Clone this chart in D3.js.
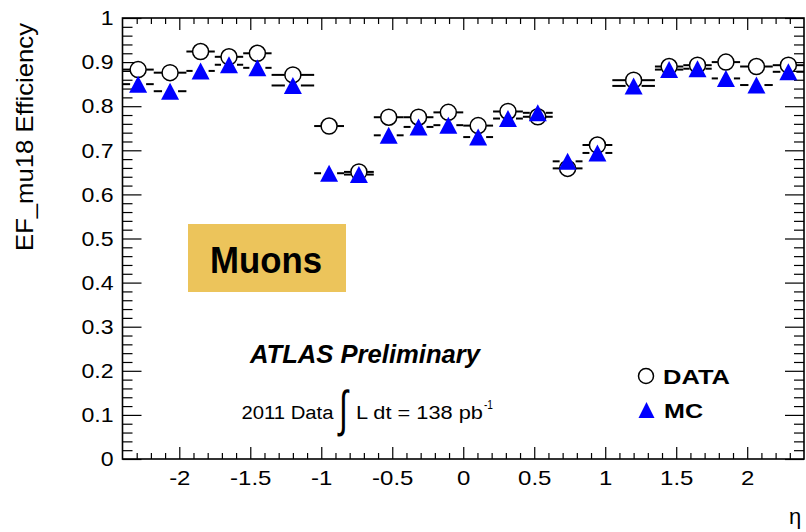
<!DOCTYPE html>
<html>
<head>
<meta charset="utf-8">
<script src="https://cdn.jsdelivr.net/npm/d3@7"></script>
<style>
  html, body { margin: 0; padding: 0; background: #fff; }
  svg { display: block; }
  text { font-family: "Liberation Sans", Arial, Helvetica, sans-serif; fill: #000; }
</style>
</head>
<body>
<div id="chart"></div>
<script>
// ---------------- data ----------------
const etaLow     = [-2.4, -2.18, -1.95, -1.75, -1.55, -1.35, -1.05, -0.84, -0.63, -0.42, -0.21, 0.0, 0.21, 0.42, 0.63, 0.84, 1.05, 1.35, 1.55, 1.75, 1.95, 2.18];
const etaHigh    = [-2.18, -1.95, -1.75, -1.55, -1.35, -1.05, -0.84, -0.63, -0.42, -0.21, 0.0, 0.21, 0.42, 0.63, 0.84, 1.05, 1.35, 1.55, 1.75, 1.95, 2.18, 2.4];
const etaCenter  = [-2.29, -2.065, -1.85, -1.65, -1.45, -1.2, -0.945, -0.735, -0.525, -0.315, -0.105, 0.105, 0.315, 0.525, 0.735, 0.945, 1.2, 1.45, 1.65, 1.85, 2.065, 2.29];
const dataEff    = [0.883, 0.876, 0.924, 0.912, 0.920, 0.871, 0.755, 0.651, 0.775, 0.775, 0.786, 0.756, 0.788, 0.776, 0.659, 0.712, 0.859, 0.890, 0.893, 0.900, 0.890, 0.893];
const mcEff      = [0.850, 0.834, 0.880, 0.894, 0.887, 0.847, 0.648, 0.645, 0.734, 0.753, 0.757, 0.730, 0.772, 0.785, 0.675, 0.694, 0.846, 0.883, 0.885, 0.863, 0.848, 0.878];
const xMajorTicks = [-2, -1.5, -1, -0.5, 0, 0.5, 1, 1.5, 2];
const xTickLabels = ["-2", "-1.5", "-1", "-0.5", "0", "0.5", "1", "1.5", "2"];
const xMinorTicks = [-2.3, -2.2, -2.1, -1.9, -1.8, -1.7, -1.6, -1.4, -1.3, -1.2, -1.1, -0.9, -0.8, -0.7, -0.6, -0.4, -0.3, -0.2, -0.1, 0.1, 0.2, 0.3, 0.4, 0.6, 0.7, 0.8, 0.9, 1.1, 1.2, 1.3, 1.4, 1.6, 1.7, 1.8, 1.9, 2.1, 2.2, 2.3];
const yMajorTicks = [0, 0.1, 0.2, 0.3, 0.4, 0.5, 0.6, 0.7, 0.8, 0.9, 1];
const yTickLabels = ["0", "0.1", "0.2", "0.3", "0.4", "0.5", "0.6", "0.7", "0.8", "0.9", "1"];
const yMinorTicks = [];
for (const t of yMajorTicks.slice(0, -1)) for (const k of [0.02, 0.04, 0.06, 0.08]) yMinorTicks.push(+(t + k).toFixed(2));
const legendLabels = ["DATA", "MC"];

// ---------------- layout ----------------
const W = 806, H = 532;
const L = 122.5, R = 804, T = 18, B = 459;
const svg = d3.select("#chart").append("svg").attr("width", W).attr("height", H);
svg.append("rect").attr("width", W).attr("height", H).attr("fill", "#fff");

const x = d3.scaleLinear().domain([-2.4, 2.4]).range([L, R]);
const y = d3.scaleLinear().domain([0, 1]).range([B, T]);

function styleAxis(g) {
  g.select(".domain").remove();
  g.selectAll(".tick line").attr("stroke", "#000").attr("stroke-width", 1.2);
}

// x axes (bottom with labels, top mirrored)
const xb = svg.append("g").attr("transform", `translate(0,${B})`)
  .call(d3.axisBottom(x).tickValues(xMajorTicks).tickSize(-12).tickSizeOuter(0).tickPadding(12)
    .tickFormat((d, i) => xTickLabels[i]));
styleAxis(xb);
xb.selectAll(".tick text").attr("font-size", 20).attr("font-family", "Liberation Sans, Arial, sans-serif")
  .attr("transform", "scale(1.2,1)");
svg.append("g").attr("transform", `translate(0,${B})`)
  .call(d3.axisBottom(x).tickValues(xMinorTicks).tickSize(-6).tickSizeOuter(0).tickFormat(""))
  .call(styleAxis);
svg.append("g").attr("transform", `translate(0,${T})`)
  .call(d3.axisTop(x).tickValues(xMajorTicks).tickSize(-12).tickSizeOuter(0).tickFormat(""))
  .call(styleAxis);
svg.append("g").attr("transform", `translate(0,${T})`)
  .call(d3.axisTop(x).tickValues(xMinorTicks).tickSize(-6).tickSizeOuter(0).tickFormat(""))
  .call(styleAxis);

// y axes
const yl = svg.append("g").attr("transform", `translate(${L},0)`)
  .call(d3.axisLeft(y).tickValues(yMajorTicks).tickSize(-19).tickSizeOuter(0).tickPadding(9)
    .tickFormat((d, i) => yTickLabels[i]));
styleAxis(yl);
yl.selectAll(".tick text").attr("font-size", 21).attr("font-family", "Liberation Sans, Arial, sans-serif")
  .attr("x", -9 / 1.1).attr("transform", "scale(1.1,1)");
svg.append("g").attr("transform", `translate(${L},0)`)
  .call(d3.axisLeft(y).tickValues(yMinorTicks).tickSize(-10).tickSizeOuter(0).tickFormat(""))
  .call(styleAxis);
svg.append("g").attr("transform", `translate(${R},0)`)
  .call(d3.axisRight(y).tickValues(yMajorTicks).tickSize(-19).tickSizeOuter(0).tickFormat(""))
  .call(styleAxis);
svg.append("g").attr("transform", `translate(${R},0)`)
  .call(d3.axisRight(y).tickValues(yMinorTicks).tickSize(-10).tickSizeOuter(0).tickFormat(""))
  .call(styleAxis);

// frame
svg.append("rect").attr("x", L).attr("y", T).attr("width", R - L).attr("height", B - T)
  .attr("fill", "none").attr("stroke", "#000").attr("stroke-width", 1.6);

// axis titles
svg.append("text").attr("transform", `translate(33,137) rotate(-90)`)
  .attr("text-anchor", "middle").attr("font-size", 24)
  .attr("textLength", 228).attr("lengthAdjust", "spacingAndGlyphs")
  .text("EF_mu18 Efficiency");
svg.append("text").attr("x", 789).attr("y", 524).attr("font-size", 22).text("η");

// ---------------- marks ----------------
const pts = etaCenter.map((c, i) => ({ c, lo: etaLow[i], hi: etaHigh[i], d: dataEff[i], m: mcEff[i] }));
const gap = 8;
const bars = svg.append("g").attr("stroke", "#000").attr("stroke-width", 2);
function drawBars(key) {
  bars.selectAll(null).data(pts).join("line")
    .attr("x1", p => x(p.lo)).attr("x2", p => Math.max(x(p.lo), x(p.c) - gap))
    .attr("y1", p => y(p[key])).attr("y2", p => y(p[key]));
  bars.selectAll(null).data(pts).join("line")
    .attr("x1", p => Math.min(x(p.hi), x(p.c) + gap)).attr("x2", p => x(p.hi))
    .attr("y1", p => y(p[key])).attr("y2", p => y(p[key]));
}
drawBars("d");
drawBars("m");

svg.append("g").selectAll("circle").data(pts).join("circle")
  .attr("cx", p => x(p.c)).attr("cy", p => y(p.d)).attr("r", 8)
  .attr("fill", "#fff").attr("stroke", "#000").attr("stroke-width", 1.5);

function triPath(cx, cy, hw, hh) {
  const p = d3.path();
  p.moveTo(cx, cy - hh); p.lineTo(cx + hw, cy + hh); p.lineTo(cx - hw, cy + hh); p.closePath();
  return p.toString();
}
svg.append("g").selectAll("path").data(pts).join("path")
  .attr("d", p => triPath(x(p.c), y(p.m), 9, 8.5))
  .attr("fill", "#0000ff");

// ---------------- annotations ----------------
svg.append("rect").attr("x", 188).attr("y", 224).attr("width", 158).attr("height", 68).attr("fill", "#ECC45B");
svg.append("text").attr("x", 210).attr("y", 273).attr("font-size", 36).attr("font-weight", "bold")
  .attr("font-family", "Open Sans, Lato, sans-serif")
  .attr("textLength", 112).attr("lengthAdjust", "spacingAndGlyphs").text("Muons");

svg.append("text").attr("x", 250).attr("y", 363).attr("font-size", 25).attr("font-weight", "bold")
  .attr("font-style", "italic").attr("textLength", 230).attr("lengthAdjust", "spacingAndGlyphs")
  .text("ATLAS Preliminary");

svg.append("text").attr("x", 241.5).attr("y", 419).attr("font-size", 18)
  .attr("textLength", 92).attr("lengthAdjust", "spacingAndGlyphs").text("2011 Data");
svg.append("text").attr("transform", "translate(343.5,426) scale(0.8,1.25)")
  .attr("font-size", 40).attr("text-anchor", "middle")
  .attr("font-family", "Liberation Serif, DejaVu Serif, serif").text("∫");
svg.append("text").attr("x", 356).attr("y", 419).attr("font-size", 18)
  .attr("textLength", 127).attr("lengthAdjust", "spacingAndGlyphs").text("L dt = 138 pb");
svg.append("text").attr("x", 484).attr("y", 409).attr("font-size", 12)
  .attr("textLength", 9).attr("lengthAdjust", "spacingAndGlyphs").text("-1");

// legend
svg.append("circle").attr("cx", 646).attr("cy", 376).attr("r", 7.5)
  .attr("fill", "#fff").attr("stroke", "#000").attr("stroke-width", 1.5);
svg.append("text").attr("x", 663).attr("y", 384).attr("font-size", 19.5).attr("font-weight", "bold")
  .attr("textLength", 67).attr("lengthAdjust", "spacingAndGlyphs").text(legendLabels[0]);
svg.append("path").attr("d", triPath(646.5, 410, 8, 8)).attr("fill", "#0000ff");
svg.append("text").attr("x", 664).attr("y", 418).attr("font-size", 19.5).attr("font-weight", "bold")
  .attr("textLength", 39).attr("lengthAdjust", "spacingAndGlyphs").text(legendLabels[1]);
</script>
</body>
</html>
